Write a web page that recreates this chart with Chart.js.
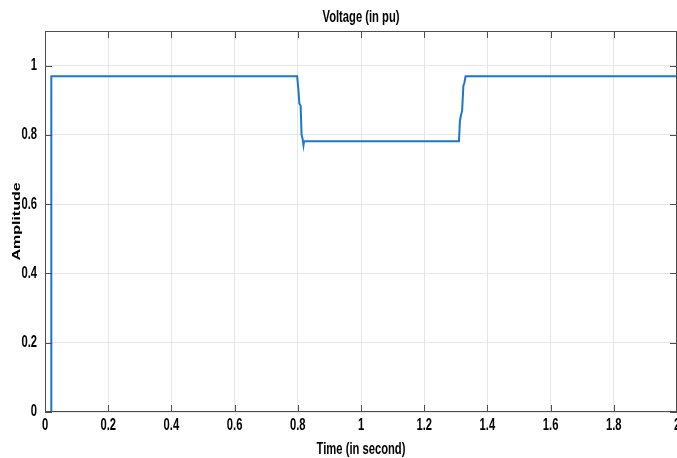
<!DOCTYPE html>
<html>
<head>
<meta charset="utf-8">
<script src="https://cdn.jsdelivr.net/npm/chart.js@4.4.1/dist/chart.umd.min.js"></script>
<style>
    html, body { margin: 0; padding: 0; background: #fff; }
    #wrap { width: 677px; height: 458px; position: relative; }
</style>
</head>
<body>
<div id="wrap"><canvas id="voltageChart"></canvas></div>
<script>
// Voltage trace (time in s, voltage in pu)
const timeValues    = [0, 0.019, 0.02, 0.798, 0.802, 0.805, 0.809, 0.812, 0.815, 0.818, 0.820, 1.310, 1.313, 1.315, 1.320, 1.324, 1.327, 1.331, 2.0];
const voltageValues = [0, 0,     0.969, 0.969, 0.93, 0.89,  0.885, 0.80,  0.79,  0.77,  0.782, 0.782, 0.84,  0.851, 0.87,  0.942, 0.95,  0.969, 0.969];

const xTicks = [0, 0.2, 0.4, 0.6, 0.8, 1, 1.2, 1.4, 1.6, 1.8, 2];
const yTicks = [0, 0.2, 0.4, 0.6, 0.8, 1];

const chartTitle = 'Voltage (in pu)';
const xTitle = 'Time (in second)';
const yTitle = 'Amplitude';

const font = "bold 16px 'Liberation Sans', Arial, sans-serif";
const squeeze = 0.70;   // the reference text is horizontally condensed
const axisColor = '#4d4d4d';

function fmt(v) {
    return String(Math.round(v * 10) / 10);
}

// condensed text helper
function drawText(ctx, text, x, y, align, rotate) {
    ctx.save();
    ctx.translate(x, y);
    ctx.scale(squeeze, 1);
    if (rotate) ctx.rotate(-Math.PI / 2);
    ctx.textAlign = align;
    ctx.textBaseline = 'middle';
    ctx.fillText(text, 0, 0);
    ctx.restore();
}

// MATLAB style box, inward tick marks and labels
const matlabAxes = {
    id: 'matlabAxes',
    afterDraw(chart) {
        const { ctx, chartArea: a, scales } = chart;
        const len = 7;
        ctx.save();
        ctx.strokeStyle = axisColor;
        ctx.lineWidth = 1;
        ctx.strokeRect(a.left + 0.5, a.top + 0.5, a.right - a.left - 1, a.bottom - a.top - 1);
        ctx.beginPath();
        xTicks.forEach(v => {
            const x = Math.round(scales.x.getPixelForValue(v)) + 0.5;
            ctx.moveTo(x, a.bottom); ctx.lineTo(x, a.bottom - len);
            ctx.moveTo(x, a.top); ctx.lineTo(x, a.top + len);
        });
        yTicks.forEach(v => {
            const y = Math.round(scales.y.getPixelForValue(v)) + 0.5;
            ctx.moveTo(a.left, y); ctx.lineTo(a.left + len, y);
            ctx.moveTo(a.right, y); ctx.lineTo(a.right - len, y);
        });
        ctx.stroke();

        ctx.fillStyle = '#000';
        ctx.font = font;
        xTicks.forEach(v => {
            drawText(ctx, fmt(v), scales.x.getPixelForValue(v), a.bottom + 14, 'center');
        });
        yTicks.forEach(v => {
            drawText(ctx, fmt(v), a.left - 8, scales.y.getPixelForValue(v), 'right');
        });
        drawText(ctx, chartTitle, (a.left + a.right) / 2, a.top - 13, 'center');
        drawText(ctx, xTitle, (a.left + a.right) / 2, a.bottom + 38, 'center');
        drawText(ctx, yTitle, 17, (a.top + a.bottom) / 2, 'center', true);
        ctx.restore();
    }
};

const ctx = document.getElementById('voltageChart').getContext('2d');
new Chart(ctx, {
    type: 'line',
    data: {
        datasets: [{
            label: 'Voltage',
            data: timeValues.map((t, i) => ({ x: t, y: voltageValues[i] })),
            borderColor: '#1a78c8',
            borderWidth: 2,
            pointRadius: 0,
            tension: 0,
            fill: false
        }]
    },
    options: {
        responsive: true,
        maintainAspectRatio: false,
        animation: false,
        layout: { padding: { top: 31, right: 0, bottom: 0, left: 0 } },
        plugins: {
            legend: { display: false },
            tooltip: { enabled: false },
            title: { display: false }
        },
        scales: {
            x: {
                type: 'linear',
                min: 0,
                max: 2,
                afterBuildTicks: scale => { scale.ticks = xTicks.map(v => ({ value: v })); },
                afterFit: scale => {
                    scale.height = 46;
                    scale.paddingLeft = 0;
                    scale.paddingRight = 0;
                },
                grid: { color: '#e6e6e6', drawTicks: false },
                border: { display: false },
                ticks: { display: false }
            },
            y: {
                min: 0,
                max: 1.1,
                afterBuildTicks: scale => { scale.ticks = yTicks.map(v => ({ value: v })); },
                afterFit: scale => {
                    scale.width = 45;
                    scale.paddingTop = 0;
                    scale.paddingBottom = 0;
                },
                grid: { color: '#e6e6e6', drawTicks: false },
                border: { display: false },
                ticks: { display: false }
            }
        }
    },
    plugins: [matlabAxes]
});
</script>
</body>
</html>
